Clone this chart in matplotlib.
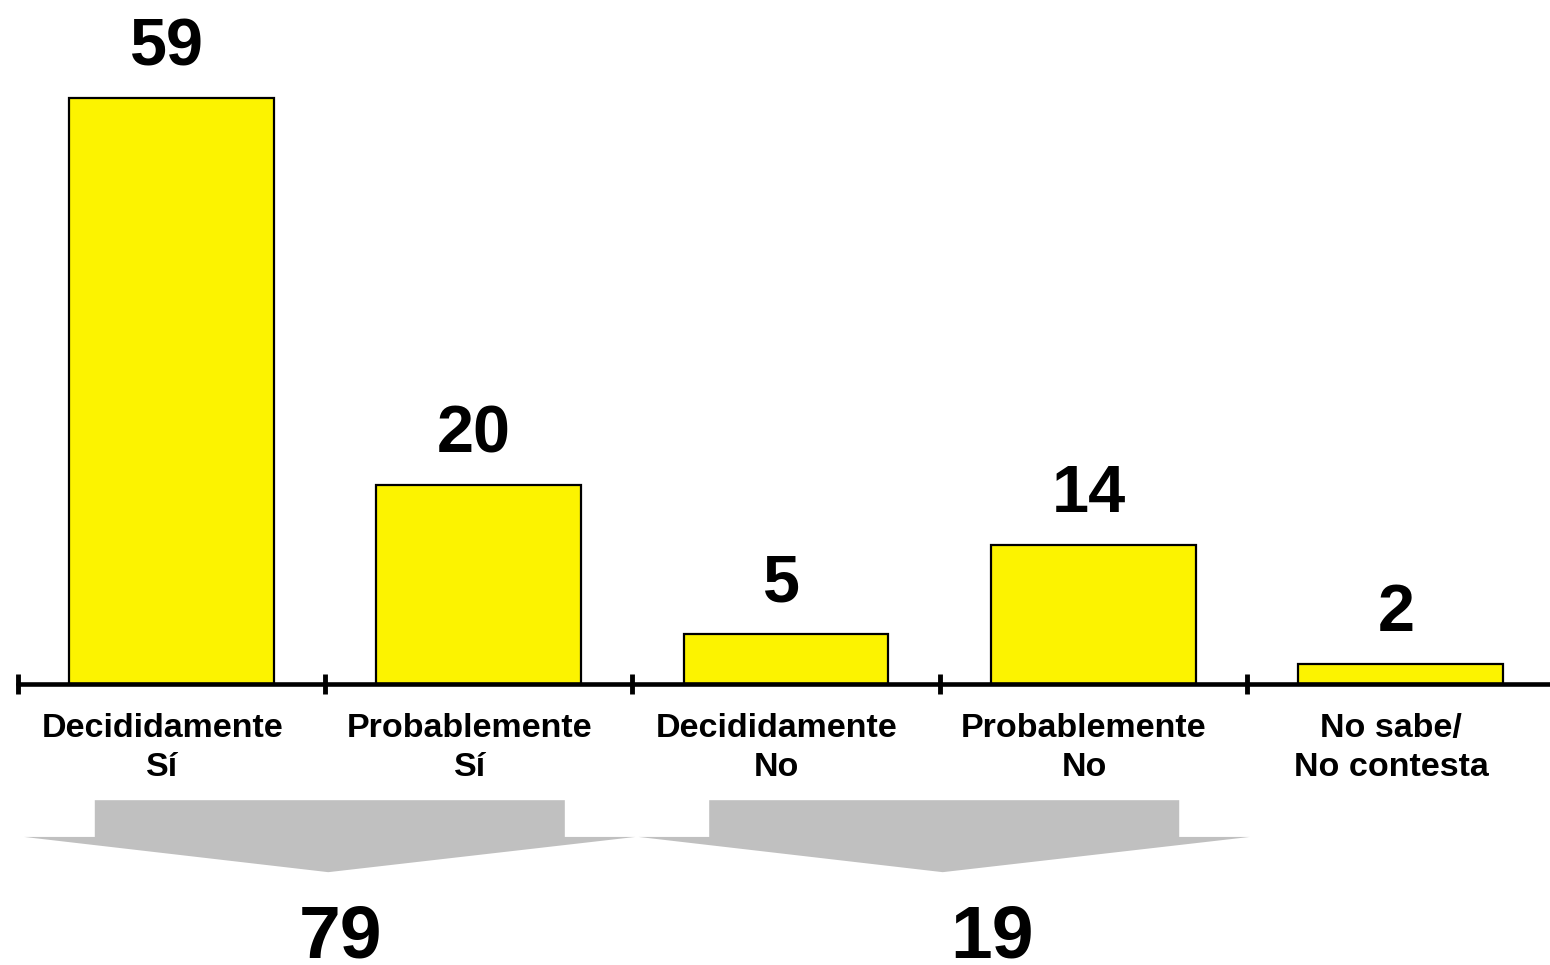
import matplotlib

matplotlib.use("Agg")
import matplotlib.pyplot as plt
from matplotlib.patches import Polygon

categories = ["Decididamente\nSí", "Probablemente\nSí", "Decididamente\nNo",
              "Probablemente\nNo", "No sabe/\nNo contesta"]
values = [59, 20, 5, 14, 2]
# groups summed under the grey arrows: (first index, last index)
groups = [(0, 1), (2, 3)]

W, H, DPI = 1550, 965, 100
plt.rcParams["font.family"] = ["Liberation Sans", "DejaVu Sans"]
plt.rcParams["font.weight"] = "bold"

fig = plt.figure(figsize=(W / DPI, H / DPI), dpi=DPI)

px_per_cat = 307.2
px_per_unit = 9.93
x0_px, base_px = 18, 684
ax = fig.add_axes([x0_px / W, (H - base_px) / H, (W - x0_px) / W, base_px / H])
ax.set_xlim(0, (W - x0_px) / px_per_cat)
ax.set_ylim(0, base_px / px_per_unit)

centers = [i + 0.5 for i in range(len(values))]
ax.bar(centers, values, width=0.667, color="#FCF300", edgecolor="black",
       linewidth=1.6, zorder=2)

for x, v in zip(centers, values):
    ax.text(x - 0.015, v + 3.3, str(v), ha="center", va="baseline",
            fontsize=48, fontweight="bold")

for x, lab in zip(centers, categories):
    ax.text(x - 0.03, -2.9, lab, ha="center", va="top", fontsize=24.5,
            fontweight="bold", linespacing=1.35, clip_on=False)

for s in ["top", "right", "left"]:
    ax.spines[s].set_visible(False)
ax.spines["bottom"].set_linewidth(3.3)
ax.spines["bottom"].set_capstyle("round")
ax.set_yticks([])
ax.set_xticks(range(len(values)))
ax.set_xticklabels([])
ax.tick_params(axis="x", direction="inout", length=15, width=3.5)

# grey "sum" arrows under the grouped categories
label_shift = [0.05, 0.17]
for (a, b), dx in zip(groups, label_shift):
    left, right = a, b + 1
    mid = (left + right) / 2
    shape = [(left + 0.25, -11.7), (right - 0.22, -11.7), (right - 0.22, -15.4),
             (right + 0.01, -15.4), (mid + 0.01, -18.95), (left + 0.02, -15.4),
             (left + 0.25, -15.4)]
    ax.add_patch(Polygon(shape, closed=True, facecolor="#C0C0C0",
                         edgecolor="none", clip_on=False, zorder=1))
    total = sum(values[a:b + 1])
    ax.text(mid + dx, -27.5, str(total), ha="center", va="baseline",
            fontsize=54, fontweight="bold", clip_on=False)

fig.savefig("out.png", dpi=DPI)
plt.close(fig)
